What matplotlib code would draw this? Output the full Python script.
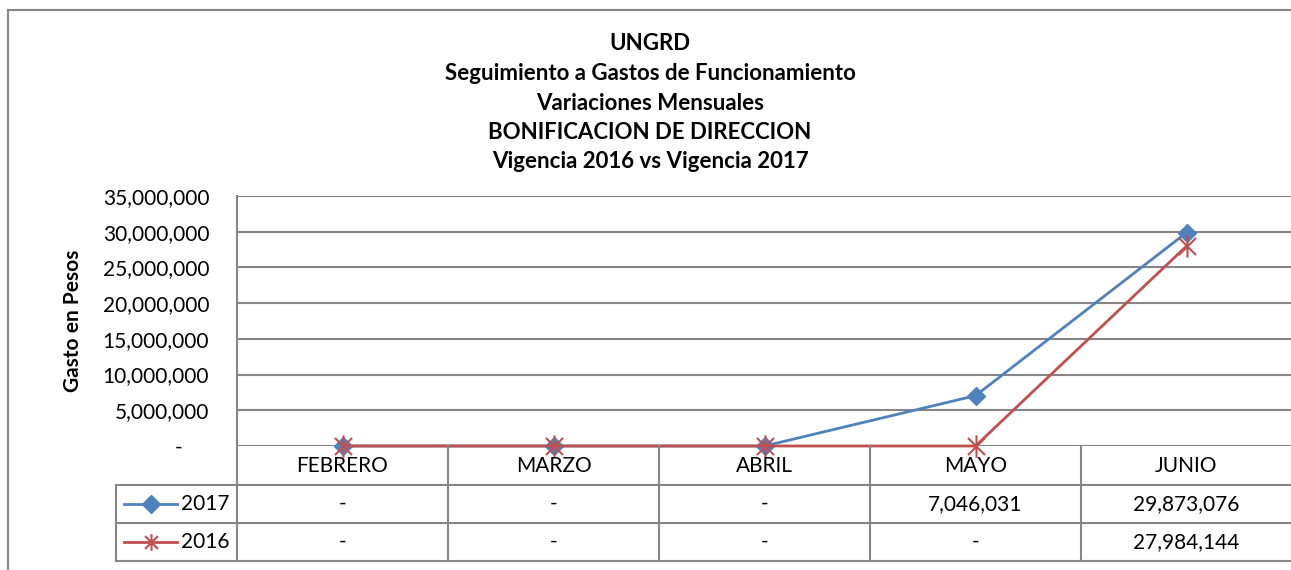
import matplotlib
matplotlib.use("Agg")
import matplotlib.pyplot as plt
from matplotlib.ticker import FuncFormatter, MultipleLocator
from matplotlib.path import Path
from matplotlib.lines import Line2D

categories = ["FEBRERO", "MARZO", "ABRIL", "MAYO", "JUNIO"]
series_names = ["2017", "2016"]
values_2017 = [0, 0, 0, 7046031, 29873076]
values_2016 = [0, 0, 0, 0, 27984144]
title_lines = ["UNGRD", "Seguimiento a Gastos de Funcionamiento", "Variaciones Mensuales",
               "BONIFICACION DE DIRECCION", "Vigencia 2016 vs Vigencia 2017"]
ylabel = "Gasto en Pesos"

FONT = ["Lato", "DejaVu Sans"]
plt.rcParams['font.family'] = FONT

W, H = 1291, 570
fig = plt.figure(figsize=(W / 100, H / 100), dpi=100)

def fx(x):
    return x / W

def fy(y):
    return 1 - y / H

GRID = "#868686"
BLUE = "#4F81BD"
RED = "#C0504D"
FS = 15
TFS = 16

# outer chart border (cropped at right/bottom)
fig.add_artist(Line2D([fx(8), fx(8)], [fy(10), fy(575)], color=GRID, lw=1.5))
fig.add_artist(Line2D([fx(8), fx(1295)], [fy(10), fy(10)], color=GRID, lw=1.5))

# title
ty = [44, 74, 103, 132, 161]
for t, y in zip(title_lines, ty):
    fig.text(fx(650), fy(y), t, ha="center", va="center", fontsize=TFS, fontweight="bold")

# plot area
px0, px1 = 237, 1292
py_top, py_bot = 196, 446
ax = fig.add_axes([fx(px0), fy(py_bot), fx(px1 - px0), (py_bot - py_top) / H])
n = len(categories)
xs = [i + 0.5 for i in range(n)]
ax.set_xlim(0, n)
ax.set_ylim(0, 35000000)
ax.yaxis.set_major_locator(MultipleLocator(5000000))
ax.yaxis.set_major_formatter(FuncFormatter(lambda v, p: "-     " if v == 0 else f"{v:,.0f}"))
ax.grid(axis="y", color=GRID, lw=1.5)
ax.set_axisbelow(True)
ax.set_xticks([])
for s in ["top", "right", "bottom"]:
    ax.spines[s].set_visible(False)
ax.spines["left"].set_color(GRID)
ax.spines["left"].set_linewidth(1.5)
ax.tick_params(axis="y", length=0, labelsize=FS, pad=20, colors="black")

star = Path([(-1, -1), (1, 1), (-1, 1), (1, -1), (0, -1.3), (0, 1.3)],
            [Path.MOVETO, Path.LINETO, Path.MOVETO, Path.LINETO, Path.MOVETO, Path.LINETO])

ax.plot(xs, values_2017, color=BLUE, lw=2, marker="D", ms=9, mfc=BLUE, mec=BLUE, clip_on=False, zorder=3)
ax.plot(xs, values_2016, color=RED, lw=2, marker=star, ms=16, mfc="none", mec=RED, mew=1.5, clip_on=False, zorder=4)

fig.text(fx(73), fy(321), ylabel, rotation=90, ha="center", va="center", fontsize=FS, fontweight="bold")

# data table
row_y = [446, 485, 523, 561]
col_x = [px0 + i * (px1 - px0) / n for i in range(n + 1)]
legend_x0 = 116
tlw = 1.5
for x in col_x:
    fig.add_artist(Line2D([fx(x), fx(x)], [fy(row_y[0]), fy(row_y[3])], color=GRID, lw=tlw))
fig.add_artist(Line2D([fx(legend_x0), fx(legend_x0)], [fy(row_y[1]), fy(row_y[3])], color=GRID, lw=tlw))
for y in row_y[1:]:
    fig.add_artist(Line2D([fx(legend_x0), fx(px1)], [fy(y), fy(y)], color=GRID, lw=tlw))

for i, c in enumerate(categories):
    cx = (col_x[i] + col_x[i + 1]) / 2
    fig.text(fx(cx), fy((row_y[0] + row_y[1]) / 2), c, ha="center", va="center", fontsize=FS)

def fmt(v):
    return "-" if v == 0 else f"{v:,.0f}"

for r, (name, vals, col, mk, ms, mfc) in enumerate([
        (series_names[0], values_2017, BLUE, "D", 9, BLUE),
        (series_names[1], values_2016, RED, star, 12, "none")]):
    yc = (row_y[r + 1] + row_y[r + 2]) / 2
    for i, v in enumerate(vals):
        cx = (col_x[i] + col_x[i + 1]) / 2
        fig.text(fx(cx), fy(yc), fmt(v), ha="center", va="center", fontsize=FS)
    fig.add_artist(Line2D([fx(124), fx(177)], [fy(yc), fy(yc)], color=col, lw=2))
    fig.add_artist(Line2D([fx(150.5)], [fy(yc)], color=col, marker=mk, ms=ms,
                          mfc=mfc, mec=col, mew=1.5 if mfc == "none" else 1))
    fig.text(fx(181), fy(yc), name, ha="left", va="center", fontsize=FS)

fig.savefig("out.png", dpi=100, facecolor="white")
